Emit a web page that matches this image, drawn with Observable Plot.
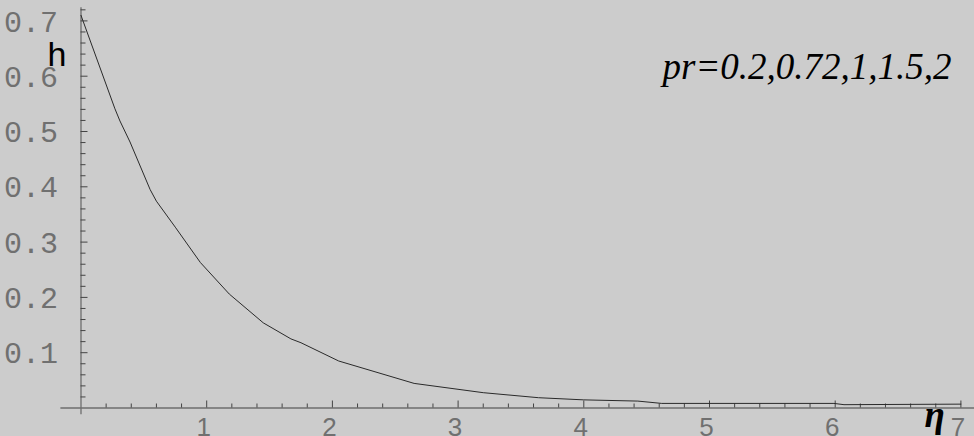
<!DOCTYPE html>
<html>
<head>
<meta charset="utf-8">
<script src="https://cdn.jsdelivr.net/npm/d3@7"></script>
<script src="https://cdn.jsdelivr.net/npm/@observablehq/plot@0.6"></script>
<style>
  html, body { margin: 0; padding: 0; background: #cccccc; }
  #chart svg { display: block; }
</style>
</head>
<body>
<div id="chart"></div>
<script>
// Similarity variable η and temperature-like profile h(η)
const eta = [0, 0.27, 0.31, 0.39, 0.55, 0.60, 0.75, 0.95, 1.18, 1.45, 1.67, 1.75,
             2.05, 2.65, 3.20, 3.64, 4.00, 4.43, 4.62, 5.99, 6.07, 7.00];
const h   = [0.710, 0.541, 0.519, 0.481, 0.395, 0.374, 0.327, 0.263, 0.206, 0.154, 0.125, 0.118,
             0.085, 0.0445, 0.0277, 0.0186, 0.0147, 0.0125, 0.0083, 0.0083, 0.006, 0.007];

// Axis ticks
const xTicks = [1, 2, 3, 4, 5, 6, 7];
const yTicks = [0.1, 0.2, 0.3, 0.4, 0.5, 0.6, 0.7];
const yTickLabels = ["0.1", "0.2", "0.3", "0.4", "0.5", "0.6", "0.7"];
const xMinor = d3.range(1, 36).map(i => i / 5).filter(v => !Number.isInteger(v));
const yMinor = d3.range(1, 37).map(i => i / 50).filter((v, i) => (i + 1) % 5 !== 0);

const annotation = "pr=0.2,0.72,1,1.5,2";
const yLabel = "h";
const xLabel = "η";

const profile = eta.map((e, i) => ({eta: e, h: h[i]}));

// Pixel-per-unit of the scales below, used for tick lengths
const W = 974, H = 436;
const xRange = [80.5, 960.4], yRange = [407.5, 20.4];
const kx = (xRange[1] - xRange[0]) / 7;
const ky = (yRange[0] - yRange[1]) / 0.7;

const axisColor = "#6e6e6e";
const labelColor = "#707070";

const chart = Plot.plot({
  width: W,
  height: H,
  margin: 0,
  style: {background: "#cccccc", overflow: "visible"},
  x: {domain: [0, 7], range: xRange, axis: null},
  y: {domain: [0, 0.7], range: yRange, axis: null},
  marks: [
    // axes lines
    Plot.ruleY([0], {x1: -0.16, x2: 7.2, stroke: axisColor, strokeWidth: 1.3}),
    Plot.ruleX([0], {y1: -0.012, y2: 0.724, stroke: axisColor, strokeWidth: 1.3}),
    // x ticks (pointing up)
    Plot.ruleX(xTicks, {x: d => d, y1: 0, y2: 7 / ky, stroke: "#444", strokeWidth: 1}),
    Plot.ruleX(xMinor, {x: d => d, y1: 0, y2: 4 / ky, stroke: "#444", strokeWidth: 1}),
    // y ticks (pointing right)
    Plot.ruleY(yTicks, {y: d => d, x1: 0, x2: 7 / kx, stroke: "#444", strokeWidth: 1}),
    Plot.ruleY(yMinor, {y: d => d, x1: 0, x2: 5 / kx, stroke: "#444", strokeWidth: 1}),
    // tick labels
    Plot.text(yTicks, {
      x: 0, y: d => d, text: (d, i) => yTickLabels[i],
      textAnchor: "end", dx: -23, dy: 1,
      fontFamily: "Liberation Mono", fontSize: 30, fill: labelColor
    }),
    Plot.text(xTicks, {
      x: d => d, y: 0, text: d => String(d),
      lineAnchor: "bottom", dy: 28, dx: -3,
      fontFamily: "Liberation Sans", fontSize: 26, fill: labelColor
    }),
    // curve
    Plot.line(profile, {x: "eta", y: "h", stroke: "#2a2a2a", strokeWidth: 1}),
    // labels
    Plot.text([yLabel], {
      frameAnchor: "top-left", dx: 47, dy: 65, textAnchor: "start", lineAnchor: "bottom",
      fontFamily: "Liberation Sans", fontSize: 34, fill: "#000"
    }),
    Plot.text([xLabel], {
      frameAnchor: "top-left", dx: 924, dy: 426, textAnchor: "start", lineAnchor: "bottom",
      fontFamily: "Liberation Serif", fontSize: 37, fontWeight: "bold", fontStyle: "italic", fill: "#000"
    }),
    Plot.text([annotation], {
      frameAnchor: "top-left", dx: 662, dy: 78, textAnchor: "start", lineAnchor: "bottom",
      fontFamily: "Liberation Serif", fontSize: 37, fontStyle: "italic", fill: "#000"
    })
  ]
});

document.getElementById("chart").append(chart);
</script>
</body>
</html>
